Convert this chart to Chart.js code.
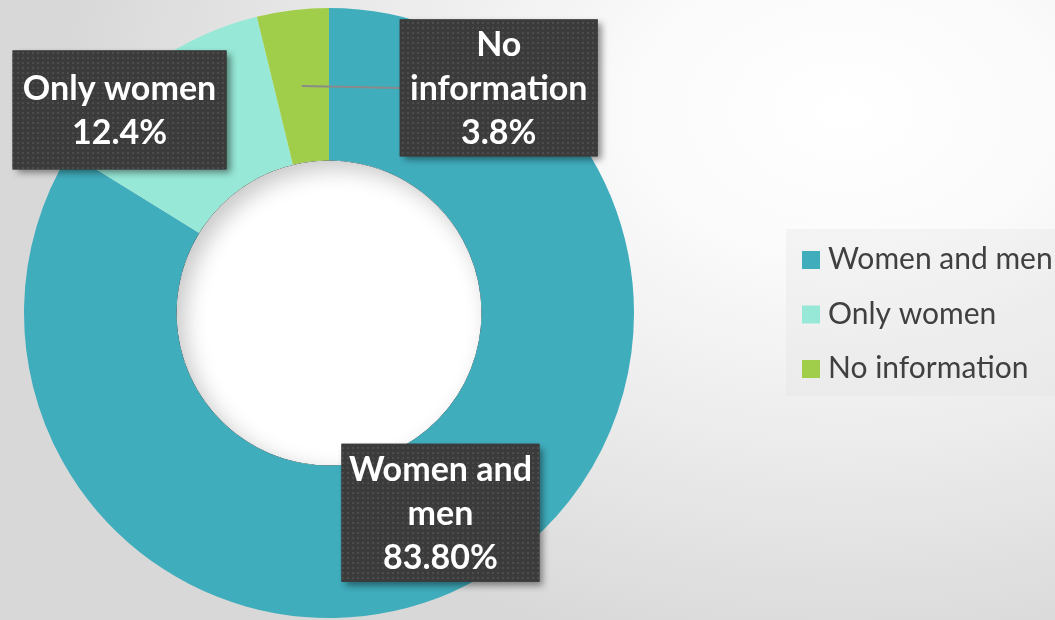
<!DOCTYPE html>
<html>
<head>
<meta charset="utf-8">
<script src="https://cdn.jsdelivr.net/npm/chart.js@4.4.0/dist/chart.umd.min.js"></script>
<style>
  html, body {
    margin: 0;
    padding: 0;
    width: 1055px;
    height: 620px;
    overflow: hidden;
    background: radial-gradient(ellipse 75% 90% at 80% 18%, #ffffff 0%, #fbfbfb 25%, #eeeeee 55%, #d8d8d8 100%);
  }
  #wrap { position: absolute; left: 0; top: 0; width: 1055px; height: 620px; }
</style>
</head>
<body>
<div id="wrap"><canvas id="myChart" width="1055" height="620"></canvas></div>
<script>
const categories = ["Women and men", "Only women", "No information"];
const shares = [83.8, 12.4, 3.8];
const shareLabels = ["83.80%", "12.4%", "3.8%"];
const labelLines = [["Women and", "men"], ["Only women"], ["No", "information"]];
const sliceColors = ["#40adbd", "#97e8d6", "#a1ce4a"];

// where the label boxes sit relative to each slice centre, and their size
const labelOffsets = [[0, 0], [-75, -18], [197, 2]];
const labelBoxes = [[198, 138], [214, 119], [198, 137]];

const dotPattern = (ctx) => {
  const c = document.createElement("canvas");
  c.width = 5;
  c.height = 5;
  const p = c.getContext("2d");
  p.fillStyle = "#3b3b3b";
  p.fillRect(0, 0, 5, 5);
  p.fillStyle = "#4d4d4d";
  p.fillRect(2, 2, 2, 2);
  return ctx.createPattern(c, "repeat");
};

const ringExtras = {
  id: "ringExtras",
  beforeDatasetsDraw(chart) {
    const ctx = chart.ctx;
    const arc = chart.getDatasetMeta(0).data[0];
    const { x, y, innerRadius } = arc.getProps(["x", "y", "innerRadius"], true);
    ctx.save();
    ctx.fillStyle = "#ffffff";
    ctx.beginPath();
    ctx.arc(x, y, innerRadius, 0, Math.PI * 2);
    ctx.fill();
    ctx.restore();
  },
  afterDatasetsDraw(chart) {
    const ctx = chart.ctx;
    const meta = chart.getDatasetMeta(0);
    const first = meta.data[0].getProps(["x", "y", "innerRadius"], true);

    // sunken look of the hole
    ctx.save();
    ctx.beginPath();
    ctx.arc(first.x, first.y, first.innerRadius, 0, Math.PI * 2);
    ctx.clip();
    ctx.shadowColor = "rgba(0,0,0,0.22)";
    ctx.shadowBlur = 22;
    ctx.shadowOffsetX = 8;
    ctx.shadowOffsetY = 8;
    ctx.beginPath();
    ctx.rect(first.x - 600, first.y - 600, 1200, 1200);
    ctx.arc(first.x, first.y, first.innerRadius, 0, Math.PI * 2, true);
    ctx.fillStyle = "#000";
    ctx.fill("evenodd");
    ctx.restore();

    const pattern = dotPattern(ctx);
    meta.data.forEach((el, i) => {
      const pos = el.tooltipPosition(true);
      const cx = pos.x + labelOffsets[i][0];
      const cy = pos.y + labelOffsets[i][1];
      const w = labelBoxes[i][0];
      const h = labelBoxes[i][1];

      // leader line when the box is moved away from its slice
      if (Math.abs(labelOffsets[i][0]) > w / 2) {
        ctx.save();
        ctx.strokeStyle = "#8a8a8a";
        ctx.lineWidth = 2;
        ctx.beginPath();
        ctx.moveTo(pos.x, pos.y);
        ctx.lineTo(cx - w / 2, cy);
        ctx.stroke();
        ctx.restore();
      }

      ctx.save();
      ctx.shadowColor = "rgba(0,0,0,0.45)";
      ctx.shadowBlur = 7;
      ctx.shadowOffsetX = 4;
      ctx.shadowOffsetY = 4;
      ctx.fillStyle = "#3b3b3b";
      ctx.fillRect(cx - w / 2, cy - h / 2, w, h);
      ctx.restore();
      ctx.save();
      ctx.fillStyle = pattern;
      ctx.fillRect(cx - w / 2, cy - h / 2, w, h);

      const lines = labelLines[i].concat([shareLabels[i]]);
      ctx.fillStyle = "#ffffff";
      ctx.font = "bold 34px Lato";
      ctx.textAlign = "center";
      ctx.textBaseline = "alphabetic";
      lines.forEach((t, j) => {
        const ly = cy + (j - (lines.length - 1) / 2) * 44 + 12;
        ctx.fillText(t, cx, ly);
      });
      ctx.restore();
    });

    // legend on the right
    const ds = chart.data.datasets[0];
    ctx.save();
    ctx.fillStyle = "rgba(225,225,225,0.3)";
    ctx.fillRect(786, 229, 269, 167);
    ctx.font = "30px Lato";
    ctx.textAlign = "left";
    ctx.textBaseline = "alphabetic";
    chart.data.labels.forEach((lab, i) => {
      const base = 269 + i * 54.5;
      ctx.fillStyle = ds.backgroundColor[i];
      ctx.fillRect(802, base - 18, 18, 18);
      ctx.fillStyle = "#404040";
      ctx.fillText(lab, 828, base);
    });
    ctx.restore();
  }
};

new Chart(document.getElementById("myChart"), {
  type: "doughnut",
  data: {
    labels: categories,
    datasets: [
      {
        data: shares,
        backgroundColor: sliceColors,
        borderWidth: 0,
        hoverOffset: 0,
        offset: 0,
      },
    ],
  },
  options: {
    responsive: false,
    animation: false,
    events: [],
    cutout: "50%",
    layout: {
      padding: { left: 0, right: 397, top: 8, bottom: 2 },
    },
    plugins: {
      legend: { display: false },
      tooltip: { enabled: false },
    },
  },
  plugins: [ringExtras],
});
</script>
</body>
</html>
